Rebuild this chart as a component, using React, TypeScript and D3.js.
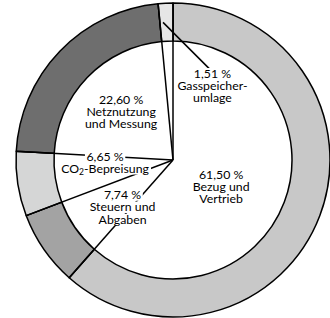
import React, { useRef, useEffect } from 'react';
import * as d3 from 'd3';

// Kostenanteile (Prozent), im Uhrzeigersinn ab 12 Uhr
const categories = ['Bezug und Vertrieb', 'Steuern und Abgaben', 'CO2-Bepreisung', 'Netznutzung und Messung', 'Gasspeicherumlage'];
const shares = [61.5, 7.74, 6.65, 22.6, 1.51];
const shareLabels = ['61,50 %', '7,74 %', '6,65 %', '22,60 %', '1,51 %'];
const nameLines = [
  ['Bezug und', 'Vertrieb'],
  ['Steuern und', 'Abgaben'],
  ['CO|2|-Bepreisung'],
  ['Netznutzung', 'und Messung'],
  ['Gasspeicher-', 'umlage'],
];

const fills = ['#c8c8c8', '#a3a3a3', '#d5d6d6', '#6e6e6e', '#e6e6e6'];
// label placement: [angle in degrees clockwise from top, distance from centre]
const labelPos: [number, number][] = [
  [119, 55],
  [227, 69],
  [268, 68],
  [313, 71],
  [28, 84],
];

const W = 330;
const H = 318;
const cx = 173;
const cy = 160;
const R = 157;
const r = 119;

const App: React.FC = () => {
  const svgRef = useRef<SVGSVGElement | null>(null);

  useEffect(() => {
    const svg = d3.select(svgRef.current);
    svg.selectAll('*').remove();

    const g = svg.append('g').attr('transform', `translate(${cx},${cy})`);

    const pie = d3.pie<number>().sort(null).value((d) => d);
    const arcs = pie(shares);
    const ring = d3.arc<d3.PieArcDatum<number>>().innerRadius(r).outerRadius(R);

    g.selectAll('path.slice')
      .data(arcs)
      .enter()
      .append('path')
      .attr('class', 'slice')
      .attr('d', ring)
      .attr('fill', (d, i) => fills[i])
      .attr('stroke', '#000')
      .attr('stroke-width', 1.5)
      .attr('stroke-linejoin', 'round');

    const polar = (a: number, rad: number): [number, number] => [rad * Math.sin(a), -rad * Math.cos(a)];

    // radial borders through the white centre
    g.selectAll('line.spoke')
      .data(arcs)
      .enter()
      .append('line')
      .attr('class', 'spoke')
      .attr('x1', 0)
      .attr('y1', 0)
      .attr('x2', (d) => polar(d.startAngle, R)[0])
      .attr('y2', (d) => polar(d.startAngle, R)[1])
      .attr('stroke', '#000')
      .attr('stroke-width', 1.5);

    // leader for the small slice
    const gas = arcs[4];
    const gasMid = (gas.startAngle + gas.endAngle) / 2 - 0.025;
    const [lx1, ly1] = polar(gasMid, 138);
    const [lx2, ly2] = polar((labelPos[4][0] - 6) * Math.PI / 180, labelPos[4][1] + 14);
    g.append('line')
      .attr('x1', lx1)
      .attr('y1', ly1)
      .attr('x2', lx2)
      .attr('y2', ly2)
      .attr('stroke', '#000')
      .attr('stroke-width', 1.5);

    const lineH = 12.3;
    categories.forEach((c, i) => {
      const [px, py] = polar(labelPos[i][0] * Math.PI / 180, labelPos[i][1]);
      const lines = [shareLabels[i], ...nameLines[i]];
      const y0 = py - ((lines.length - 1) * lineH) / 2;
      const lg = g.append('g');
      lines.forEach((ln, j) => {
        const bg = lg.append('rect').attr('fill', '#fff');
        const t = lg
          .append('text')
          .attr('x', px)
          .attr('y', y0 + j * lineH)
          .attr('dy', '0.35em')
          .attr('text-anchor', 'middle')
          .attr('font-family', 'Lato, "Open Sans", sans-serif')
          .attr('font-size', 12.3)
          .attr('fill', '#000');
        const parts = ln.split('|');
        if (parts.length === 1) {
          t.text(ln);
        } else {
          t.append('tspan').text(parts[0]);
          t.append('tspan').attr('font-size', 8.5).attr('dy', 2.5).text(parts[1]);
          t.append('tspan').attr('dy', -2.5).text(parts[2]);
        }
        const b = (t.node() as SVGTextElement).getBBox();
        bg.attr('x', b.x - 1.5)
          .attr('y', y0 + j * lineH - 5.5)
          .attr('width', b.width + 3)
          .attr('height', 11.5);
      });
    });
  }, []);

  return (
    <svg
      ref={svgRef}
      width={W}
      height={H}
      style={{ position: 'absolute', left: 0, top: 0, background: '#fff' }}
    />
  );
};

export default App;
